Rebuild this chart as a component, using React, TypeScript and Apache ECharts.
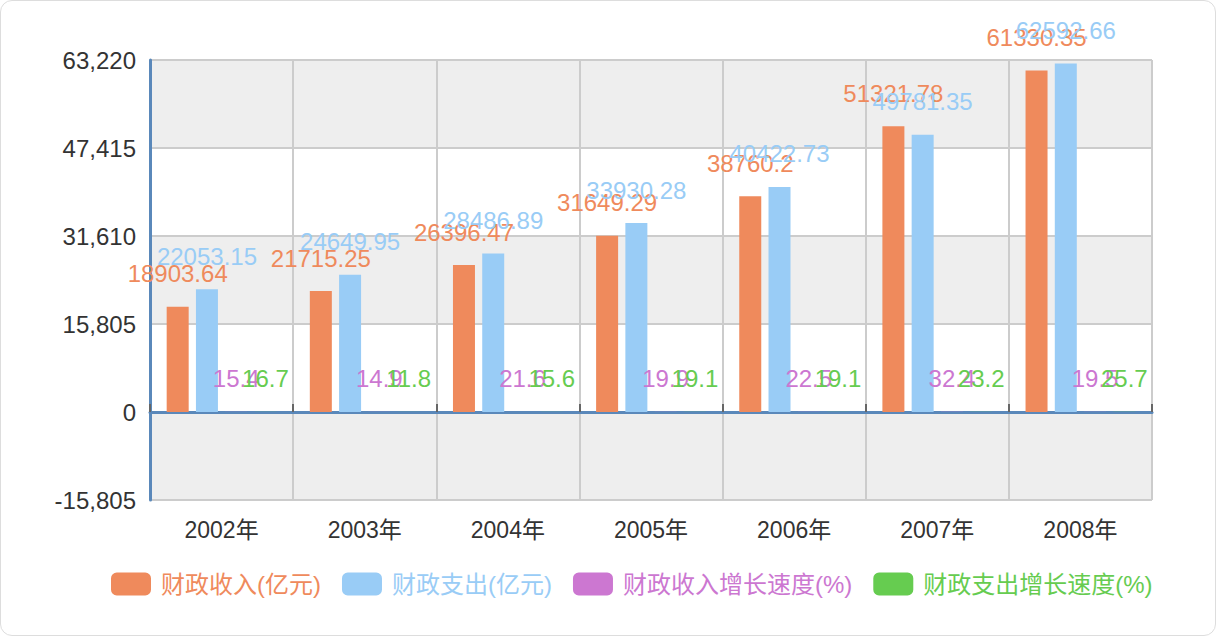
import React, { useEffect, useRef } from "react";
import * as echarts from "echarts";

const categories = ["2002年", "2003年", "2004年", "2005年", "2006年", "2007年", "2008年"];
const revenue = [18903.64, 21715.25, 26396.47, 31649.29, 38760.2, 51321.78, 61330.35];
const expenditure = [22053.15, 24649.95, 28486.89, 33930.28, 40422.73, 49781.35, 62592.66];
const revenueGrowth = [15.4, 14.9, 21.6, 19.9, 22.5, 32.4, 19.5];
const expenditureGrowth = [16.7, 11.8, 15.6, 19.1, 19.1, 23.2, 25.7];
const seriesNames = ["财政收入(亿元)", "财政支出(亿元)", "财政收入增长速度(%)", "财政支出增长速度(%)"];
const colors = ["#EF8A5C", "#99CCF6", "#CC77D1", "#66CC50"];

const FONT = "'Liberation Sans', Arial, 'Noto Sans CJK SC', sans-serif";

export default function App() {
  const ref = useRef<HTMLDivElement>(null);
  useEffect(() => {
    document.body.style.margin = "0";
    if (!ref.current) return;
    const chart = echarts.init(ref.current, null, { renderer: "svg" });
    const datasets = [revenue, expenditure, revenueGrowth, expenditureGrowth];
    chart.setOption({
      animation: false,
      textStyle: { fontFamily: FONT },
      color: colors,
      grid: { left: 149, right: 63, top: 59, bottom: 135, containLabel: false },
      legend: {
        left: 105,
        top: 566,
        itemWidth: 40,
        itemHeight: 23,
        itemGap: 21,
        icon: "roundRect",
        data: seriesNames.map((n, i) => ({
          name: n,
          textStyle: { color: colors[i], fontSize: 24, fontFamily: FONT, padding: [0, 0, 0, 5] },
        })),
      },
      xAxis: [
        {
          type: "category",
          data: categories,
          position: "bottom",
          axisLine: { show: true, onZero: true, lineStyle: { color: "#5A88BA", width: 3 } },
          axisTick: { show: true, inside: true, length: 8, lineStyle: { color: "#666", width: 2 } },
          axisLabel: { show: false },
          splitLine: { show: true, lineStyle: { color: "#cccccc", width: 2 } },
        },
        {
          type: "category",
          data: categories,
          position: "bottom",
          axisLine: { show: false, onZero: false },
          axisTick: { show: false },
          axisLabel: { show: true, color: "#333", fontSize: 23, margin: 18, fontFamily: FONT },
          splitLine: { show: false },
        },
      ],
      yAxis: {
        type: "value",
        min: -15805,
        max: 63220,
        interval: 15805,
        axisLine: { show: true, lineStyle: { color: "#5A88BA", width: 3 } },
        axisTick: { show: false },
        axisLabel: {
          color: "#333",
          fontSize: 24,
          margin: 14,
          fontFamily: FONT,
          formatter: (v: number) => v.toLocaleString("en-US"),
        },
        splitLine: { show: true, lineStyle: { color: "#cccccc", width: 2 } },
        splitArea: { show: true, areaStyle: { color: ["#eeeeee", "#ffffff"] } },
      },
      series: seriesNames.map((n, i) => ({
        name: n,
        type: "bar",
        xAxisIndex: 0,
        data: datasets[i],
        barWidth: 22,
        barGap: "33%",
        itemStyle: { color: colors[i] },
        label: {
          show: true,
          position: "top",
          distance: 21,
          color: colors[i],
          fontSize: 24,
          fontFamily: FONT,
        },
      })),
    });
    return () => chart.dispose();
  }, []);
  return (
    <div
      style={{
        width: 1214,
        height: 634,
        border: "1px solid #dddddd",
        borderRadius: 12,
        background: "#fff",
        overflow: "hidden",
      }}
    >
      <div ref={ref} style={{ width: 1214, height: 634 }} />
    </div>
  );
}
